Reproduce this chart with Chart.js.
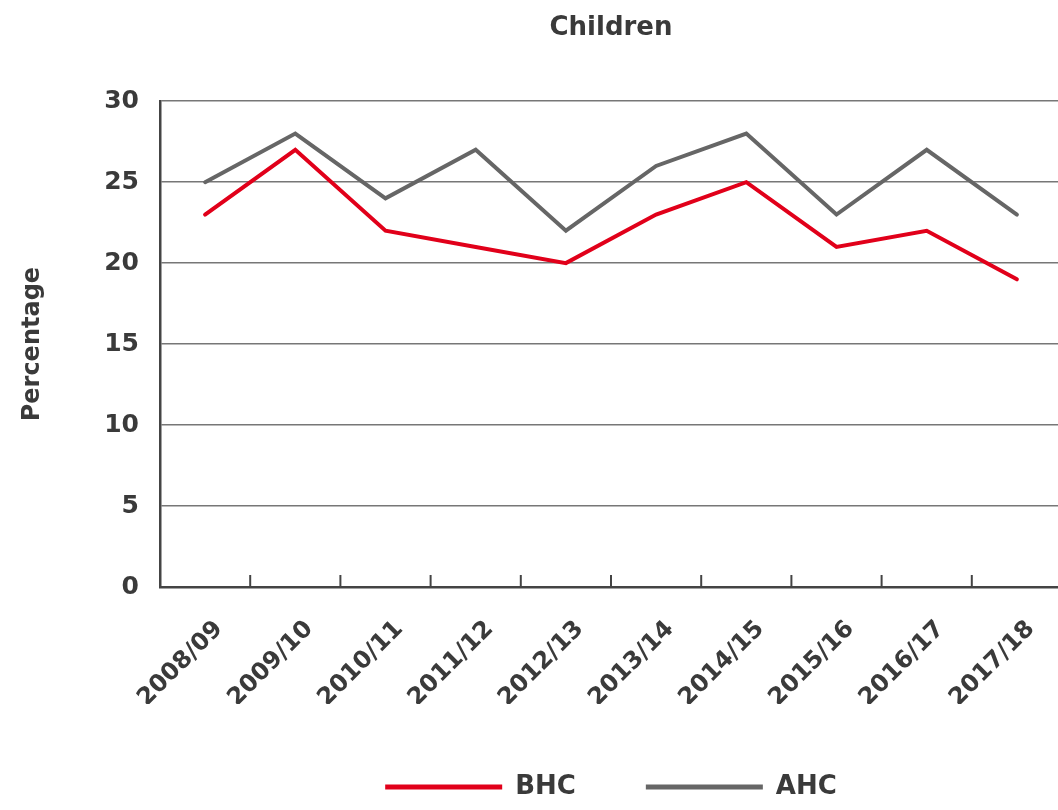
<!DOCTYPE html>
<html>
<head>
<meta charset="utf-8">
<script src="https://cdn.jsdelivr.net/npm/chart.js@4"></script>
<style>
  html, body { margin: 0; padding: 0; background: #fff; overflow: hidden; }
  #wrap { width: 1058px; height: 810px; overflow: hidden; position: relative; }
  #box { width: 1222px; height: 810px; position: absolute; left: 0; top: 0; }
</style>
</head>
<body>
<div id="wrap"><div id="box"><canvas id="c"></canvas></div></div>
<script>
const categories = ['2008/09','2009/10','2010/11','2011/12','2012/13','2013/14','2014/15','2015/16','2016/17','2017/18'];
const bhcValues = [23, 27, 22, 21, 20, 23, 25, 21, 22, 19];
const ahcValues = [25, 28, 24, 27, 22, 26, 28, 23, 27, 23];
const yTicks = [0, 5, 10, 15, 20, 25, 30];

const FONT = '"DejaVu Sans", sans-serif';
const TEXT = '#3a3a3a';
const RED = '#e1001a';
const GREY = '#666666';

const innerTicks = {
  id: 'innerTicks',
  afterDatasetsDraw(chart) {
    const xs = chart.scales.x;
    const ctx = chart.ctx;
    const bottom = chart.chartArea.bottom;
    ctx.save();
    ctx.strokeStyle = '#444';
    ctx.lineWidth = 2;
    for (let i = 1; i < categories.length; i++) {
      const x = (xs.getPixelForValue(i - 1) + xs.getPixelForValue(i)) / 2;
      ctx.beginPath();
      ctx.moveTo(x, bottom);
      ctx.lineTo(x, bottom - 12);
      ctx.stroke();
    }
    ctx.restore();
  }
};

new Chart(document.getElementById('c'), {
  type: 'line',
  data: {
    labels: categories,
    datasets: [
      { label: 'BHC', data: bhcValues, borderColor: RED, backgroundColor: RED, borderWidth: 4, pointRadius: 0, tension: 0, borderCapStyle: 'round', borderJoinStyle: 'miter' },
      { label: 'AHC', data: ahcValues, borderColor: GREY, backgroundColor: GREY, borderWidth: 4, pointRadius: 0, tension: 0, borderCapStyle: 'round', borderJoinStyle: 'miter' }
    ]
  },
  options: {
    responsive: true,
    maintainAspectRatio: false,
    animation: false,
    layout: { padding: 0 },
    plugins: {
      title: {
        display: true, text: 'Children', color: TEXT,
        font: { family: FONT, size: 26, weight: 'bold' },
        padding: { top: 13, bottom: 57 }
      },
      legend: {
        position: 'bottom',
        labels: {
          color: TEXT,
          font: { family: FONT, size: 26, weight: 'bold' },
          boxWidth: 117, boxHeight: 5, padding: 70,
          generateLabels(chart) {
            return chart.data.datasets.map((d, i) => ({
              text: d.label, fillStyle: d.borderColor, strokeStyle: d.borderColor,
              lineWidth: 0, hidden: false, datasetIndex: i, fontColor: TEXT
            }));
          }
        }
      },
      tooltip: { enabled: false }
    },
    scales: {
      x: {
        offset: true,
        afterFit(scale) { scale.height = 117; },
        grid: { display: false, drawTicks: false },
        border: { display: true, color: '#444', width: 2.5 },
        ticks: {
          color: TEXT, font: { family: FONT, size: 24, weight: 'bold' },
          maxRotation: 45, minRotation: 45, padding: 28, labelOffset: 14, autoSkip: false
        }
      },
      y: {
        min: 0, max: 30,
        afterBuildTicks(scale) { scale.ticks = yTicks.map(v => ({ value: v })); },
        afterFit(scale) { scale.width = 160; },
        grid: { color: '#777', lineWidth: 1.5, drawTicks: false },
        border: { display: true, color: '#444', width: 2.5 },
        ticks: { color: TEXT, font: { family: FONT, size: 25, weight: 'bold' }, padding: 21 },
        title: {
          display: true, text: 'Percentage', color: TEXT,
          font: { family: FONT, size: 24, weight: 'bold' },
          padding: { top: 18, bottom: 0 }
        }
      },
      y2: {
        position: 'right', min: 0, max: 30,
        afterFit(scale) { scale.width = 160; },
        grid: { drawOnChartArea: false, drawTicks: false },
        border: { display: false },
        ticks: { display: false }
      }
    }
  },
  plugins: [innerTicks]
});
</script>
</body>
</html>
